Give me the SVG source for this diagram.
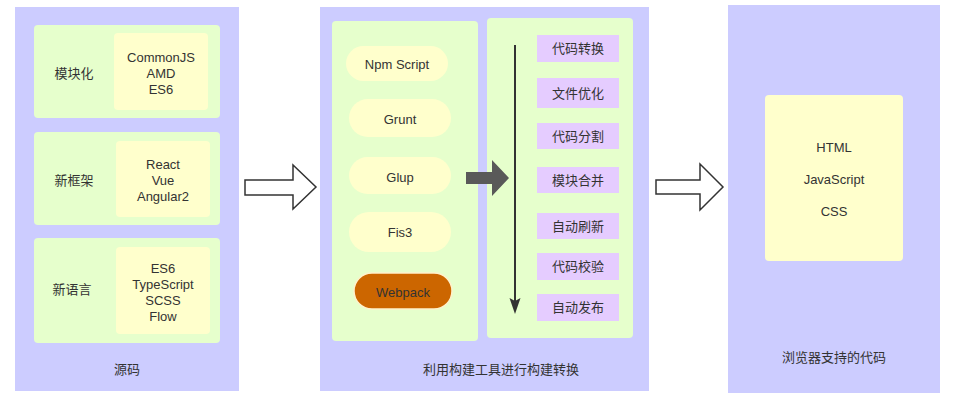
<svg xmlns="http://www.w3.org/2000/svg" width="953" height="404" viewBox="0 0 953 404">
<style>
text{font-family:"Liberation Sans","Noto Sans CJK SC",sans-serif;font-size:13px;fill:#333333;text-anchor:middle}
.cn{font-family:"Noto Sans CJK SC","Noto Sans",sans-serif}
.panel{fill:#CCCCFF}
.green{fill:#E6FFCC}
.yellow{fill:#FFFFCC}
.purple{fill:#E5CCFF}
.hollow{fill:#FFFFFF;stroke:#333333;stroke-width:1.5}
</style>
<rect width="953" height="404" fill="#FFFFFF"/>

<g id="source">
<rect class="panel" x="15" y="7" width="224" height="384"/>
<text class="cn" x="127" y="373.5">源码</text>
</g>
<g id="modular">
<rect class="green" x="34" y="25" width="186" height="93" rx="4"/>
<text class="cn" x="74" y="77.5">模块化</text>
<rect class="yellow" x="114" y="33" width="94" height="77" rx="4"/>
<text x="161" y="61.5">CommonJS</text>
<text x="161" y="77.5">AMD</text>
<text x="161" y="93.5">ES6</text>
</g>
<g id="framework">
<rect class="green" x="34" y="132" width="186" height="93" rx="4"/>
<text class="cn" x="74" y="184.5">新框架</text>
<rect class="yellow" x="116" y="141" width="94" height="76" rx="4"/>
<text x="163" y="168.5">React</text>
<text x="163" y="184.5">Vue</text>
<text x="163" y="200.5">Angular2</text>
</g>
<g id="language">
<rect class="green" x="34" y="238" width="186" height="105" rx="4"/>
<text class="cn" x="72" y="293.5">新语言</text>
<rect class="yellow" x="116" y="247" width="94" height="87" rx="4"/>
<text x="163" y="272.5">ES6</text>
<text x="163" y="288.5">TypeScript</text>
<text x="163" y="304.5">SCSS</text>
<text x="163" y="320.5">Flow</text>
</g>

<g id="build">
<rect class="panel" x="320" y="7" width="329" height="384"/>
<text class="cn" x="501" y="373.5">利用构建工具进行构建转换</text>
</g>
<g id="tools">
<rect class="green" x="332" y="21" width="146" height="320" rx="4"/>
<rect class="yellow" x="346" y="46" width="102" height="35" rx="17.5"/>
<text x="397" y="68.5">Npm Script</text>
<rect class="yellow" x="349" y="99" width="102" height="38" rx="19"/>
<text x="400" y="123.5">Grunt</text>
<rect class="yellow" x="349" y="157" width="102" height="37" rx="18.5"/>
<text x="400" y="181.5">Glup</text>
<rect class="yellow" x="349" y="212" width="102" height="40" rx="20"/>
<text x="400" y="236.5">Fis3</text>
</g>
<g id="webpack">
<rect x="354" y="273" width="98" height="36" rx="18" fill="#CC6600" stroke="#FFF2CC" stroke-width="1.5"/>
<text x="403" y="296.5">Webpack</text>
</g>
<g id="steps">
<rect class="green" x="487" y="18" width="146" height="320" rx="4"/>
<rect class="purple" x="537" y="35" width="82" height="27"/>
<text class="cn" x="578" y="53">代码转换</text>
<rect class="purple" x="537" y="78" width="82" height="30"/>
<text class="cn" x="578" y="97.5">文件优化</text>
<rect class="purple" x="537" y="123" width="82" height="26"/>
<text class="cn" x="578" y="140.5">代码分割</text>
<rect class="purple" x="537" y="167" width="82" height="26"/>
<text class="cn" x="578" y="184.5">模块合并</text>
<rect class="purple" x="537" y="213" width="82" height="26"/>
<text class="cn" x="578" y="230.5">自动刷新</text>
<rect class="purple" x="537" y="253" width="82" height="27"/>
<text class="cn" x="578" y="271">代码校验</text>
<rect class="purple" x="537" y="294" width="82" height="27"/>
<text class="cn" x="578" y="312">自动发布</text>
</g>

<g id="browser">
<rect class="panel" x="728" y="5" width="212" height="388"/>
<rect class="yellow" x="765" y="95" width="138" height="166" rx="4"/>
<text x="834" y="151.5">HTML</text>
<text x="834" y="183.5">JavaScript</text>
<text x="834" y="215.5">CSS</text>
<text class="cn" x="834" y="361.5">浏览器支持的代码</text>
</g>

<g id="connectors">
<path class="hollow" d="M245,180 L293,180 L293,165 L316,187 L293,209 L293,195 L245,195 Z"/>
<path class="hollow" d="M656,180 L700,180 L700,164 L723,187 L700,210 L700,194 L656,194 Z"/>
<path d="M466,172 L492,172 L492,160 L509,178 L492,196 L492,184 L466,184 Z" fill="#595959"/>
<line x1="515" y1="45" x2="515" y2="302" stroke="#333333" stroke-width="2"/>
<path d="M509.5,298 L515,301 L520.5,298 L515,314 Z" fill="#333333"/>
</g>
</svg>
